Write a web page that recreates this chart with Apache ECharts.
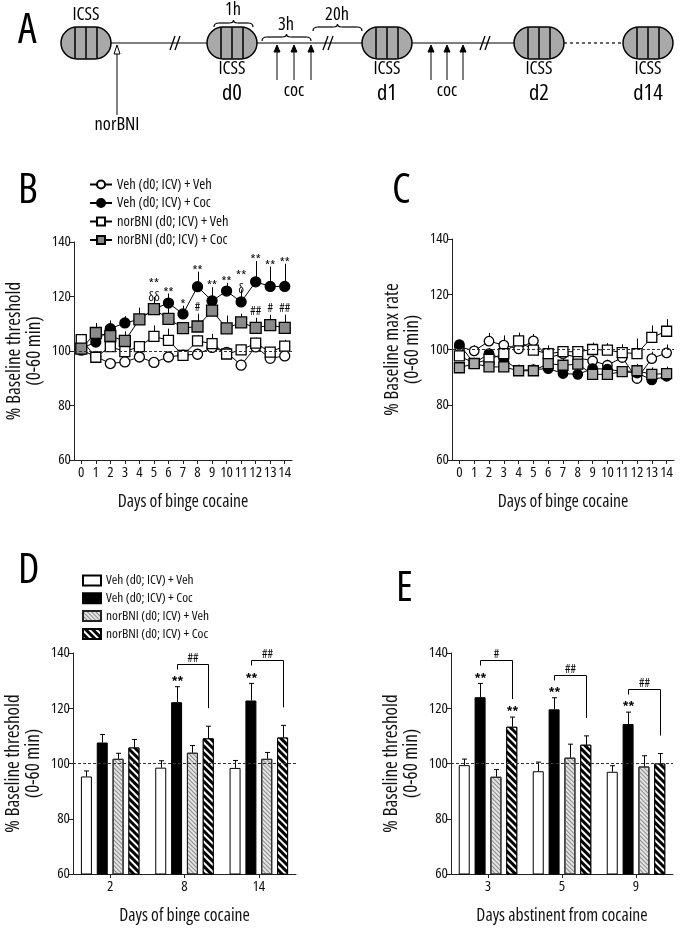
<!DOCTYPE html>
<html><head><meta charset="utf-8">
<script src="https://cdn.jsdelivr.net/npm/echarts@6/dist/echarts.min.js"></script>
<style>html,body{margin:0;padding:0;background:#fff}#c{width:684px;height:930px}</style>
</head><body><div id="c"></div>
<script>
// ---------- data ----------
const groupNames = ['Veh (d0; ICV) + Veh','Veh (d0; ICV) + Coc','norBNI (d0; ICV) + Veh','norBNI (d0; ICV) + Coc'];
const dayLabels = ['0','1','2','3','4','5','6','7','8','9','10','11','12','13','14'];

// Panel B: % baseline threshold (mean, SEM)
const bVehVeh    = [100.3, 98.0, 95.4, 96.0, 97.8, 95.8, 97.8, 98.5, 98.8, 101.3, 99.5, 94.8, 101.5, 97.3, 98.2];
const bVehVehErr = [1.5, 1.5, 1.5, 1.5, 1.5, 1.5, 1.5, 1.5, 1.5, 1.5, 1.5, 2.0, 1.5, 2.0, 1.5];
const bVehCoc    = [100.9, 103.3, 108.2, 110.3, 111.6, 115.4, 117.6, 113.6, 123.6, 118.4, 122.0, 118.0, 125.4, 123.7, 123.7];
const bVehCocErr = [2.0, 4.0, 3.0, 2.5, 3.5, 4.0, 3.5, 3.0, 5.5, 5.0, 3.0, 4.5, 7.6, 7.3, 8.3];
const bNorVeh    = [104.2, 97.7, 101.6, 99.8, 101.6, 105.4, 103.9, 98.4, 103.7, 102.7, 98.9, 100.4, 102.9, 99.6, 101.8];
const bNorVehErr = [1.5, 2.0, 1.5, 1.5, 2.0, 4.0, 4.3, 1.5, 2.2, 3.6, 1.5, 2.0, 2.0, 1.5, 2.3];
const bNorCoc    = [100.9, 106.6, 105.5, 103.7, 111.6, 115.4, 111.8, 108.4, 109.0, 114.8, 108.3, 110.5, 108.5, 109.5, 108.5];
const bNorCocErr = [1.5, 3.7, 3.0, 3.5, 4.3, 4.4, 4.1, 2.2, 4.7, 3.8, 4.7, 3.2, 3.7, 3.8, 4.8];
const bVehCocMarks = ['', '', '', '', '', '**\nδδ', '**', '*', '**', '**', '**', '**\nδ', '**', '**', '**'];
const bNorCocMarks = ['', '', '', '', '', '', '', '', '#', '', '', '', '##', '#', '##'];

// Panel C: % baseline max rate (mean, SEM)
const cVehVeh    = [101.0, 99.5, 103.0, 101.6, 100.2, 103.1, 97.0, 98.5, 97.0, 95.9, 94.3, 97.1, 89.5, 96.7, 98.8];
const cVehVehErr = [2.0, 2.0, 3.0, 3.5, 2.5, 2.5, 2.0, 2.0, 2.0, 2.0, 2.0, 2.5, 2.0, 2.5, 3.0];
const cVehCoc    = [101.8, 95.0, 98.5, 96.4, 92.5, 92.7, 93.1, 91.3, 91.0, 93.1, 92.9, 92.0, 91.5, 89.0, 90.3];
const cVehCocErr = [1.5, 2.0, 2.0, 2.0, 2.0, 2.0, 2.0, 1.5, 1.5, 2.0, 2.0, 2.0, 2.0, 2.0, 2.0];
const cNorVeh    = [97.7, 95.0, 96.4, 98.5, 103.1, 99.8, 98.5, 99.2, 99.2, 100.0, 99.8, 98.9, 98.5, 104.4, 106.6];
const cNorVehErr = [2.0, 2.0, 2.0, 2.5, 3.0, 2.5, 3.0, 2.0, 2.0, 2.5, 2.5, 3.0, 5.5, 4.3, 4.4];
const cNorCoc    = [93.4, 94.9, 93.7, 93.7, 92.3, 92.3, 94.9, 94.3, 94.7, 91.0, 91.0, 92.0, 92.3, 91.0, 91.3];
const cNorCocErr = [2.0, 2.0, 2.0, 2.0, 2.0, 2.0, 2.5, 2.5, 2.5, 2.5, 2.5, 2.0, 2.5, 2.5, 2.5];

// Panel D: binge days
const dCats = ['2', '8', '14'];
const dVehVeh = [95.3, 98.5, 98.4],   dVehVehErr = [2.0, 2.5, 2.7];
const dVehCoc = [107.6, 122.2, 122.8], dVehCocErr = [2.9, 5.6, 6.2];
const dNorVeh = [101.7, 103.9, 101.7], dNorVehErr = [2.0, 2.6, 2.3];
const dNorCoc = [105.8, 109.1, 109.4], dNorCocErr = [2.9, 4.4, 4.4];
const dVehCocStars = ['', '**', '**'];
const dNorCocStars = ['', '', ''];
const dBrackets = ['', '##', '##'];

// Panel E: abstinence days
const eCats = ['3', '5', '9'];
const eVehVeh = [99.4, 97.2, 97.0],   eVehVehErr = [2.2, 3.3, 2.2];
const eVehCoc = [124.0, 119.6, 114.3], eVehCocErr = [5.0, 4.2, 4.3];
const eNorVeh = [95.2, 102.1, 98.9],  eNorVehErr = [2.6, 4.9, 3.9];
const eNorCoc = [113.3, 106.8, 100.0], eNorCocErr = [3.5, 3.2, 3.6];
const eVehCocStars = ['**', '**', '**'];
const eNorCocStars = ['**', '', ''];
const eBrackets = ['#', '##', '##'];

// ---------- font selection: narrowest available face, scaled to the reference text width ----------
const FP = (function(){
  const ctx = document.createElement('canvas').getContext('2d');
  const s = 'Days of binge cocaine';
  const w = f => { ctx.font = f; return ctx.measureText(s).width; };
  let best = null;
  const fams = ['Liberation Sans Narrow','DejaVu Sans Condensed','Noto Sans','Open Sans','Liberation Sans','Roboto','Lato','Inter','DejaVu Sans'];
  for (const fam of fams) for (const st of ['', 'semi-condensed', 'condensed']) {
    const f = `${st} 20px "${fam}", monospace`.trim();
    const ww = w(f);
    if (!best || ww < best.w - 0.5) best = {fam:`"${fam}"`, st, w:ww};
  }
  const wNom = best.w * 16.5 / 20;
  return {fam: best.fam, st: best.st, k: Math.max(0.7, Math.min(1.1, 131 / wNom))};
})();
const FONT = FP.fam + ", sans-serif";
const FW = FP.st || 'normal';
const S = n => Math.round(n * FP.k * 10) / 10;
const font = (n, bold, raw) => `${FP.st} ${bold ? 'bold' : ''} ${raw ? n : S(n)}px ${FONT}`.replace(/\s+/g,' ').trim();
const ts = (n, extra) => Object.assign({fontFamily:FONT, fontWeight:FW, fontSize:S(n), color:'#111'}, extra||{});

// ---------- helpers ----------
function yAx(gi, name, gap) {
  return {type:'value', gridIndex:gi, min:60, max:140, interval:20,
    axisLine:{show:true, lineStyle:{color:'#222', width:1}},
    axisTick:{show:true, length:4, lineStyle:{color:'#222'}},
    axisLabel:ts(14, {margin:3}),
    splitLine:{show:false},
    name, nameLocation:'middle', nameRotate:90, nameGap:gap,
    nameTextStyle:ts(17.8, {lineHeight:20})};
}
function xAx(gi, data, name) {
  return {type:'category', gridIndex:gi, data, boundaryGap:true,
    axisLine:{show:true, lineStyle:{color:'#222', width:1}},
    axisTick:{show:true, alignWithLabel:true, length:4, lineStyle:{color:'#222'}},
    axisLabel:ts(14, {margin:5, interval:0}),
    splitLine:{show:false},
    name, nameLocation:'middle', nameGap:33,
    nameTextStyle:ts(16.5)};
}
const baseLine = {silent:true, symbol:'none', label:{show:false},
  lineStyle:{type:[3,2], color:'#333', width:1}, data:[{yAxis:100}], animation:false};

function lineErr(gi, means, errs) {
  return {type:'custom', xAxisIndex:gi, yAxisIndex:gi, z:1, silent:true,
    data: means.map((m,i)=>[i, m, m+errs[i]]),
    renderItem(p, api){
      const a = api.coord([api.value(0), api.value(1)]);
      const b = api.coord([api.value(0), api.value(2)]);
      const x = Math.round(a[0]) + 0.5;
      return {type:'line', shape:{x1:x, y1:a[1], x2:x, y2:b[1]}, style:{stroke:'#000', lineWidth:1}};
    }};
}
function lineSeries(gi, name, data, symbol, size, fill, extra) {
  return Object.assign({type:'line', name, xAxisIndex:gi, yAxisIndex:gi, data, symbol, symbolSize:size,
    showAllSymbol:true, z:3,
    lineStyle:{color:'#000', width:1},
    itemStyle:{color:fill, borderColor:'#000', borderWidth:1.3},
    emphasis:{disabled:true}}, extra||{});
}
function markSeries(gi, means, errs, marks, dy, fs) {
  return {type:'custom', xAxisIndex:gi, yAxisIndex:gi, z:6, silent:true,
    data: means.map((m,i)=>[i, m+errs[i]]),
    renderItem(p, api){
      const t = marks[p.dataIndex];
      if (!t) return null;
      const c = api.coord([api.value(0), api.value(1)]);
      return {type:'text', x:c[0], y:c[1]+dy,
        style:{text:t, fill:'#000', font:font(fs, false, true), align:'center', verticalAlign:'bottom', lineHeight:fs}};
    }};
}

const BAR_W = 11, BAR_GAP = 0.44;
function barOffset(k){ return (k - 1.5) * BAR_W * (1 + BAR_GAP); }
const barStyles = [
  {color:'#fff', borderColor:'#000', borderWidth:1},
  {color:'#000', borderColor:'#000', borderWidth:1},
  {color:'#e4e4e4', borderColor:'#222', borderWidth:1,
    decal:{symbol:'rect', symbolSize:1, color:'#8a8a8a', dashArrayX:[1,0], dashArrayY:[1,2], rotation:Math.PI/4}},
  {color:'#000', borderColor:'#000', borderWidth:1,
    decal:{symbol:'rect', symbolSize:1, color:'#fff', dashArrayX:[1,0], dashArrayY:[2,3], rotation:Math.PI/4}}
];
function barSeries(gi, k, data) {
  return {type:'bar', name:groupNames[k]+' ', xAxisIndex:gi, yAxisIndex:gi, data,
    barWidth:BAR_W, barGap:(BAR_GAP*100)+'%', z:2,
    itemStyle:barStyles[k], emphasis:{disabled:true}};
}
function barErr(gi, groups) {
  const data = [];
  groups.forEach((g,k)=> g[0].forEach((m,i)=> data.push([i, m, m + g[1][i], k])));
  return {type:'custom', xAxisIndex:gi, yAxisIndex:gi, z:4, silent:true, data,
    renderItem(p, api){
      const a = api.coord([api.value(0), api.value(1)]);
      const b = api.coord([api.value(0), api.value(2)]);
      const x = Math.round(a[0] + barOffset(api.value(3))) + 0.5;
      return {type:'group', children:[
        {type:'line', shape:{x1:x, y1:a[1], x2:x, y2:b[1]}, style:{stroke:'#000', lineWidth:1}},
        {type:'line', shape:{x1:x-2.5, y1:b[1], x2:x+2.5, y2:b[1]}, style:{stroke:'#000', lineWidth:1}}
      ]};
    }};
}
function barMarks(gi, vc, vcE, nc, ncE, vcStars, ncStars, brackets) {
  return {type:'custom', xAxisIndex:gi, yAxisIndex:gi, z:6, silent:true,
    data: vc.map((m,i)=>[i, m+vcE[i], nc[i]+ncE[i]]),
    renderItem(p, api){
      const i = p.dataIndex;
      const c = api.coord([api.value(0), api.value(1)]);
      const n = api.coord([api.value(0), api.value(2)]);
      const xv = Math.round(c[0] + barOffset(1)) + 0.5, xn = Math.round(c[0] + barOffset(3)) + 0.5;
      const kids = [];
      const st = (x, y, t) => ({type:'text', x, y, style:{text:t, fill:'#000', font:font(13, true, true), align:'center', verticalAlign:'bottom'}});
      if (vcStars[i]) kids.push(st(xv, c[1]+2, vcStars[i]));
      if (ncStars[i]) kids.push(st(xn, n[1]+2, ncStars[i]));
      if (brackets[i]) {
        const by = Math.round(c[1] - 23) + 0.5;
        kids.push({type:'polyline', shape:{points:[[xv, by+5],[xv, by],[xn, by],[xn, n[1]-18]]},
          style:{stroke:'#000', lineWidth:1, fill:null}});
        kids.push({type:'text', x:(xv+xn)/2, y:by, style:{text:brackets[i], fill:'#000', font:font(12, false, true), align:'center', verticalAlign:'bottom'}});
      }
      return {type:'group', children:kids};
    }};
}

// ---------- panel A schematic ----------
const capX = [86, 232, 387, 539, 648], capY = 43;
function capsule(cx) {
  const w = 50, h = 32;
  const seg = x => ({type:'line', shape:{x1:x, y1:-h/2+0.5, x2:x, y2:h/2-0.5}, style:{stroke:'#000', lineWidth:1.5}});
  return {type:'group', x:cx, y:capY, children:[
    {type:'rect', shape:{x:-w/2, y:-h/2, width:w, height:h, r:h/2}, style:{fill:'#a9a9a9', stroke:'#000', lineWidth:1.5}},
    seg(-11), seg(0), seg(11)]};
}
function txt(x, y, t, fs) {
  return {type:'text', x, y, style:{text:t, fill:'#000', font:font(fs), align:'center', verticalAlign:'middle'}};
}
function hline(x1, x2, dash) {
  return {type:'line', shape:{x1, y1:capY, x2, y2:capY}, style:{stroke:'#000', lineWidth:1.2, lineDash:dash||null}};
}
function brk(x) {
  return {type:'group', x, y:capY, children:[
    {type:'line', shape:{x1:-6, y1:7, x2:-1, y2:-7}, style:{stroke:'#000', lineWidth:1.3}},
    {type:'line', shape:{x1:-1, y1:7, x2:4, y2:-7}, style:{stroke:'#000', lineWidth:1.3}}]};
}
function brace(x1, x2, y) {
  const m = (x1+x2)/2, s = {stroke:'#000', lineWidth:1.2, fill:null};
  const q = (ax, ay, cx, cy, bx, by) => ({type:'bezierCurve', shape:{x1:ax, y1:ay, cpx1:cx, cpy1:cy, x2:bx, y2:by}, style:s});
  return {type:'group', children:[
    q(x1, y+4, x1, y, x1+5, y),
    {type:'line', shape:{x1:x1+5, y1:y, x2:m-4, y2:y}, style:s},
    q(m-4, y, m, y, m, y-3),
    q(m, y-3, m, y, m+4, y),
    {type:'line', shape:{x1:m+4, y1:y, x2:x2-5, y2:y}, style:s},
    q(x2-5, y, x2, y, x2, y+4)]};
}
function arrow(x, yBottom, yTip, open) {
  return {type:'group', children:[
    {type:'line', shape:{x1:x, y1:yBottom, x2:x, y2:yTip+ (open?8:6)}, style:{stroke:'#000', lineWidth:1}},
    {type:'polygon', shape:{points:[[x, yTip],[x-3, yTip+(open?9:7)],[x+3, yTip+(open?9:7)]]},
      style:{fill: open ? '#fff' : '#000', stroke:'#000', lineWidth:1}}]};
}
const letter = (x, y, t) => ({type:'text', x, y, style:{text:t, fill:'#000', font:font(42, false, true)}});
const graphicA = [
  hline(111, 207), hline(257, 362), hline(412, 514), hline(564, 623, [3,3]),
  brk(176), brk(329), brk(486),
  ...capX.map(capsule),
  txt(86, 15, 'ICSS', 17),
  ...capX.slice(1).map(x => txt(x, 69, 'ICSS', 17)),
  txt(232, 94, 'd0', 21), txt(387, 94, 'd1', 21), txt(539, 94, 'd2', 21), txt(648, 94, 'd14', 21),
  txt(233, 10, '1h', 17), brace(214, 253, 23),
  txt(286, 25, '3h', 17), brace(262, 311, 37),
  txt(337, 15, '20h', 17), brace(313, 362, 27),
  arrow(277, 80, 45), arrow(294, 80, 45), arrow(311, 80, 45),
  arrow(431, 80, 45), arrow(447, 80, 45), arrow(463, 80, 45),
  txt(294, 91, 'coc', 17), txt(447, 91, 'coc', 17),
  arrow(117, 115, 45, true), txt(117, 125, 'norBNI', 17),
  letter(18, 10, 'A'), letter(18, 170, 'B'), letter(392, 170, 'C'), letter(18, 550, 'D'), letter(396, 568, 'E')
];

// ---------- option ----------
const grayB = '#8a8a8a', grayC = '#a8a8a8';
const option = {
  animation:false,
  backgroundColor:'#fff',
  textStyle:{fontFamily:FONT, fontWeight:FW},
  grid:[
    {left:74, top:242, width:218, height:218},
    {left:452, top:239, width:222, height:221},
    {left:73, top:653, width:223, height:221},
    {left:451, top:653, width:222, height:221}
  ],
  xAxis:[
    xAx(0, dayLabels, 'Days of binge cocaine'),
    xAx(1, dayLabels, 'Days of binge cocaine'),
    xAx(2, dCats, 'Days of binge cocaine'),
    xAx(3, eCats, 'Days abstinent from cocaine')
  ],
  yAxis:[
    yAx(0, '% Baseline threshold\n(0-60 min)', 29),
    yAx(1, '% Baseline max rate\n(0-60 min)', 29),
    yAx(2, '% Baseline threshold\n(0-60 min)', 29),
    yAx(3, '% Baseline threshold\n(0-60 min)', 29)
  ],
  legend:[
    {orient:'vertical', left:84, top:172, itemWidth:22, itemHeight:10, itemGap:3.5,
     data:groupNames, textStyle:ts(13.5, {lineHeight:12}), selectedMode:false},
    {orient:'vertical', left:77, top:569, itemWidth:18, itemHeight:10, itemGap:4.8, icon:'rect',
     data:groupNames.map(n=>n+' '), textStyle:ts(12.5, {lineHeight:12}), selectedMode:false}
  ],
  graphic: graphicA,
  series:[
    // B
    lineErr(0, bVehVeh, bVehVehErr), lineErr(0, bVehCoc, bVehCocErr),
    lineErr(0, bNorVeh, bNorVehErr), lineErr(0, bNorCoc, bNorCocErr),
    lineSeries(0, groupNames[0], bVehVeh, 'circle', 10, '#fff', {markLine:baseLine}),
    lineSeries(0, groupNames[1], bVehCoc, 'circle', 10, '#000'),
    lineSeries(0, groupNames[2], bNorVeh, 'rect', 10, '#fff'),
    lineSeries(0, groupNames[3], bNorCoc, 'rect', 11, grayB),
    markSeries(0, bVehCoc, bVehCocErr, bVehCocMarks, 6, 13),
    markSeries(0, bNorCoc, bNorCocErr, bNorCocMarks, 0, 12),
    // C
    lineErr(1, cVehVeh, cVehVehErr), lineErr(1, cVehCoc, cVehCocErr),
    lineErr(1, cNorVeh, cNorVehErr), lineErr(1, cNorCoc, cNorCocErr),
    lineSeries(1, groupNames[0], cVehVeh, 'circle', 9.5, '#fff', {markLine:baseLine}),
    lineSeries(1, groupNames[1], cVehCoc, 'circle', 9.5, '#000'),
    lineSeries(1, groupNames[2], cNorVeh, 'rect', 10, '#fff'),
    lineSeries(1, groupNames[3], cNorCoc, 'rect', 10, grayC),
    // D
    barSeries(2, 0, dVehVeh), barSeries(2, 1, dVehCoc), barSeries(2, 2, dNorVeh),
    Object.assign(barSeries(2, 3, dNorCoc), {markLine:baseLine}),
    barErr(2, [[dVehVeh,dVehVehErr],[dVehCoc,dVehCocErr],[dNorVeh,dNorVehErr],[dNorCoc,dNorCocErr]]),
    barMarks(2, dVehCoc, dVehCocErr, dNorCoc, dNorCocErr, dVehCocStars, dNorCocStars, dBrackets),
    // E
    barSeries(3, 0, eVehVeh), barSeries(3, 1, eVehCoc), barSeries(3, 2, eNorVeh),
    Object.assign(barSeries(3, 3, eNorCoc), {markLine:baseLine}),
    barErr(3, [[eVehVeh,eVehVehErr],[eVehCoc,eVehCocErr],[eNorVeh,eNorVehErr],[eNorCoc,eNorCocErr]]),
    barMarks(3, eVehCoc, eVehCocErr, eNorCoc, eNorCocErr, eVehCocStars, eNorCocStars, eBrackets)
  ]
};
const chart = echarts.init(document.getElementById('c'));
chart.setOption(option);
</script></body></html>
